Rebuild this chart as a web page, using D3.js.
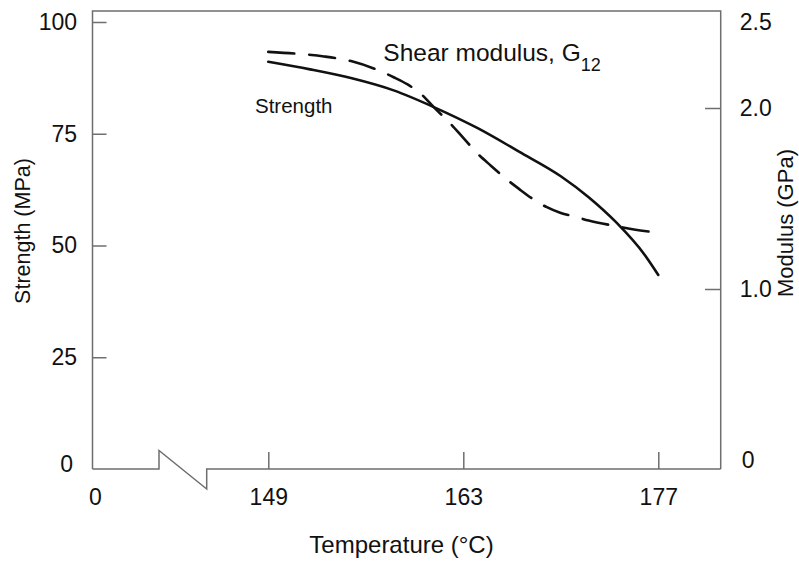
<!DOCTYPE html>
<html><head><meta charset="utf-8">
<script src="https://cdn.jsdelivr.net/npm/d3@7"></script>
<style>
body{margin:0;background:#fff}
svg{display:block}
text{font-family:"Liberation Sans",Arial,Helvetica,sans-serif;fill:#111}
</style>
</head><body>
<svg id="c" width="799" height="561"></svg>
<script>
// ---- data ----
const strengthTemps  = [149, 152, 155, 158, 161, 164, 167, 170, 172, 174, 176, 177];
const strengthValues = [91.1, 89.4, 87.4, 84.7, 80.8, 76.3, 71.0, 65.5, 60.8, 55.1, 48.0, 43.4];
const modulusTemps  = [149, 151, 153, 155, 157, 158, 159, 160, 161, 162, 163, 164, 165, 166, 167, 168, 169, 170, 171, 172, 174, 176, 177];
const modulusValues = [2.31, 2.30, 2.285, 2.258, 2.205, 2.17, 2.13, 2.075, 1.995, 1.92, 1.835, 1.75, 1.68, 1.613, 1.553, 1.497, 1.452, 1.42, 1.40, 1.378, 1.347, 1.32, 1.313];
const xTickValues = [0, 149, 163, 177];
const strengthTicks = [0, 25, 50, 75, 100];
const modulusTicks = [0, 1.0, 2.0, 2.5];
const xTitle = "Temperature (°C)";
const yLeftTitle = "Strength (MPa)";
const yRightTitle = "Modulus (GPa)";
const strengthLabel = "Strength";
const modulusLabel = "Shear modulus, G";
const modulusSub = "12";

// ---- layout ----
const L = 92.5, R = 720.7, T = 11, B = 469;
const svg = d3.select("#c");
const frameColor = "#6e6e6e";

// broken axis: 0 .. 149 compressed
const x = d3.scaleLinear().domain([0, 149, 177]).range([L, 268.3, 658.3]);
const yL = d3.scaleLinear().domain([0, 100]).range([B, 22]);
const yR = d3.scaleLinear().domain([0, 2.5]).range([470, 17.5]);

// frame
svg.append("path")
  .attr("d", `M${L},${B} V${T} H${R} V${B}`)
  .attr("fill", "none").attr("stroke", frameColor).attr("stroke-width", 1.5);
// bottom line with break symbol
svg.append("path")
  .attr("d", `M${L},${B} H159 V450.5 L206.7,489 V${B} H${R}`)
  .attr("fill", "none").attr("stroke", frameColor).attr("stroke-width", 1.5)
  .attr("stroke-linejoin", "miter");

function styleAxis(g, hideLines, fontSize) {
  g.select(".domain").remove();
  g.selectAll(".tick line").attr("stroke", frameColor).attr("stroke-width", 1.5)
    .filter(d => hideLines.includes(d)).remove();
  g.selectAll(".tick text").attr("font-size", fontSize)
    .attr("font-family", '"Liberation Sans",Arial,sans-serif').attr("fill", "#111");
}

// left axis
const gL = svg.append("g").attr("transform", `translate(${L},0)`)
  .call(d3.axisLeft(yL).tickValues(strengthTicks).tickSizeInner(-14).tickSizeOuter(0).tickPadding(15.5)
    .tickFormat(d3.format("d")));
styleAxis(gL, [0], 23);
gL.selectAll(".tick text").filter(d => d === 0).attr("y", -5).attr("x", -19.5);

// right axis
const gR = svg.append("g").attr("transform", `translate(${R},0)`)
  .call(d3.axisRight(yR).tickValues(modulusTicks).tickSizeInner(-15.7).tickSizeOuter(0).tickPadding(19)
    .tickFormat(d => d === 0 ? "0" : d3.format(".1f")(d)));
styleAxis(gR, [0, 2.5], 23);
gR.selectAll(".tick text").filter(d => d === 0).attr("y", -10).attr("x", 21);
gR.selectAll(".tick text").filter(d => d === 2.5).attr("y", 5);

// bottom axis
const gB = svg.append("g").attr("transform", `translate(0,${B})`)
  .call(d3.axisBottom(x).tickValues(xTickValues).tickSizeInner(-17).tickSizeOuter(0).tickPadding(20)
    .tickFormat(d3.format("d")));
styleAxis(gB, [0], 23);
gB.selectAll(".tick text").filter(d => d === 0).attr("x", 2.5);

// lines
const strengthData = strengthTemps.map((t, i) => [t, strengthValues[i]]);
const modulusData = modulusTemps.map((t, i) => [t, modulusValues[i]]);

svg.append("path").datum(strengthData)
  .attr("d", d3.line().x(d => x(d[0])).y(d => yL(d[1])).curve(d3.curveMonotoneX))
  .attr("fill", "none").attr("stroke", "#111").attr("stroke-width", 2.6).attr("stroke-linecap", "round");

svg.append("path").datum(modulusData)
  .attr("d", d3.line().x(d => x(d[0])).y(d => yR(d[1])).curve(d3.curveMonotoneX))
  .attr("fill", "none").attr("stroke", "#111").attr("stroke-width", 2.6)
  .attr("stroke-dasharray", "26,15").attr("stroke-linecap", "round");

// titles
svg.append("text").attr("x", 401.5).attr("y", 553).attr("text-anchor", "middle")
  .attr("font-size", 24).text(xTitle);
svg.append("text").attr("transform", "translate(30,231) rotate(-90)").attr("text-anchor", "middle")
  .attr("font-size", 21.5).text(yLeftTitle);
svg.append("text").attr("transform", "translate(793,223) rotate(-90)").attr("text-anchor", "middle")
  .attr("font-size", 22).text(yRightTitle);

// annotations
svg.append("text").attr("x", 255).attr("y", 112.7).attr("font-size", 20.5).text(strengthLabel);
const sm = svg.append("text").attr("x", 383.3).attr("y", 60.7).attr("font-size", 24.5);
sm.append("tspan").text(modulusLabel);
sm.append("tspan").attr("dy", 10).attr("font-size", 18).text(modulusSub);
</script>
</body></html>
